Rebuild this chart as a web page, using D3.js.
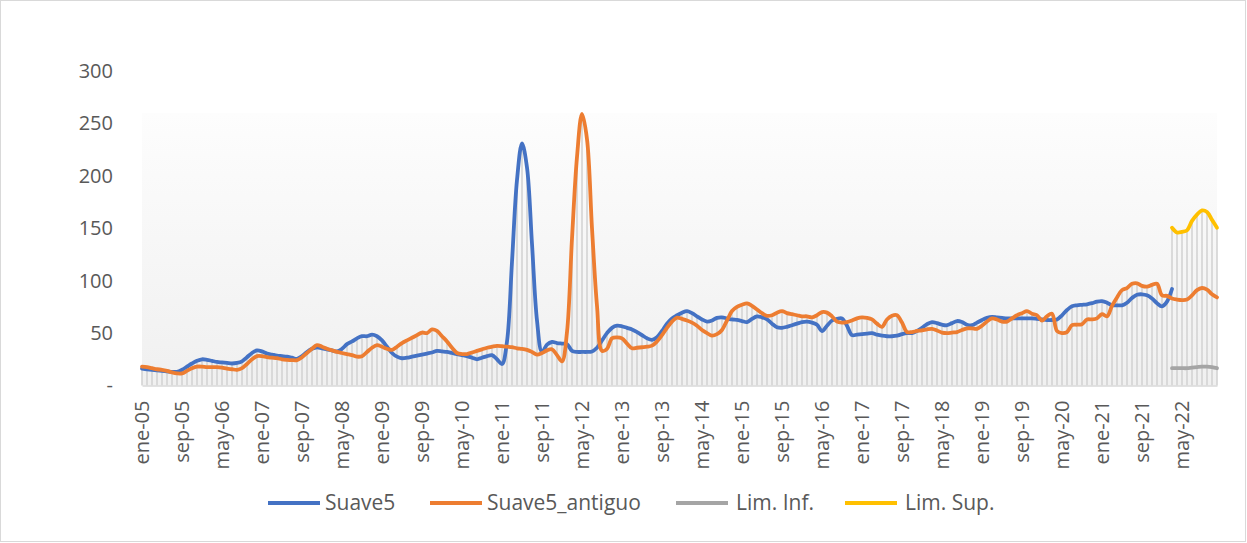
<!DOCTYPE html>
<html><head><meta charset="utf-8">
<script src="https://cdn.jsdelivr.net/npm/d3@7"></script>
<style>
html,body{margin:0;padding:0;background:#fff;}
svg{display:block;}
text{font-family:"Open Sans",sans-serif;fill:#595959;}
</style></head>
<body>
<svg id="chart" width="1247" height="543"></svg>
<script>
const monthNames = ["ene","feb","mar","abr","may","jun","jul","ago","sep","oct","nov","dic"];
const years = [2005,2006,2007,2008,2009,2010,2011,2012,2013,2014,2015,2016,2017,2018,2019,2020,2021,2022];
const categories = [];
years.forEach(y => monthNames.forEach(m => categories.push(m + "-" + String(y).slice(2))));

const tickLabels = ["ene-05","sep-05","may-06","ene-07","sep-07","may-08","ene-09","sep-09","may-10",
 "ene-11","sep-11","may-12","ene-13","sep-13","may-14","ene-15","sep-15","may-16","ene-17","sep-17",
 "may-18","ene-19","sep-19","may-20","ene-21","sep-21","may-22"];
const yTicks = [0,50,100,150,200,250,300];

const suave5 = [
16,15.5,15,14.5,14,13.5,13,13,15,18,21,23.5,25,24.5,23.5,22.5,22,21.5,21,21.5,
23,27,31,33.5,32.5,30.5,29.5,28.5,28,27.5,26.5,25.5,28,32,35,36.5,35.5,34.5,33.5,32.5,
35,39.5,42,45,47,47,48.5,47,43,37,31,27.5,26,26.5,27.5,28.5,29.5,30.5,31.5,33,
32.5,32,31,30,29,28,26.5,25,26.5,28,29,25,20.5,42,118,196,231,208,135,62,
32,39,41.5,40.5,40,39.5,33,32,32,32,32.5,36,43,50,55,57,56.5,55,53.5,51,
48,45,43.5,46,52,59,64,67,69.5,71,69,66,63,61,62,64.5,65,64,63,62.5,
61.5,60.5,63.5,66,65,63,59,55.5,55,56,57.5,59,60.5,61,60,58,52,57,62,63.5,
64,57,48,48.5,49,49.5,50,48.5,47.5,47,47,47.5,49,50,50,52,55,58.5,60.5,59.5,
58,57.5,59.5,61.5,60.5,58,57.5,60,62.5,64.5,65.5,65,64.5,64,64,64,64,64,64,63.5,
63,62.5,62.5,63,67,72,75.5,76.5,77,77.5,78.5,80,80.5,79,76.5,76.5,76.5,79,83.5,86.5,
87,86,83,78.5,75.5,80,92
];
const suave5Antiguo = [
18,17.5,16.5,15.5,15,14,12.5,11.5,11.5,14,16.5,18,18,17.5,17.5,17.5,17,16,15.5,15,
16.5,20.5,25,28,28,27,26.5,26,25,24.5,24.2,24.2,27,31,35,38.5,37,35,33.5,32,
31,30,29,27.5,28,32,36,38.5,37,35,34,37,40.5,43,45.5,48,50.5,50,53.5,52,
47,42,36,31,30,30,31.5,33,34.5,36,37,37.8,37.5,37,36.5,35.5,35,34,32,29.5,
31,33.5,34.5,29,23,51,140,218,259,235,150,76,33,35,45,46,45,40,35.5,36,
36.5,37,38,42,48,55,61,64.8,63.5,62,60,57,53,50,47.5,49,53,62,71,75,
77,78.4,76,72.5,69,66.5,67,69.5,71,69,68,67,66,66,65,67,70,69.5,66,61,
60,60.5,62,64,65,64.5,63,59,56,63,66.5,67,60,51,51,52,52.5,53.5,54,52.5,
50.5,50,50.5,51,53,54.5,54.5,54,57,61,64,63,61,61,64,67,69,71,68.5,67,
62,66,68.5,52,50,51,57.5,58,58.5,63,63,64,68,66,76,84,91,93,97,97.5,
95,94.3,96,97,86,85.5,83,82,81.5,82,86,91,93,91.5,87,84
];
const limStart = 206;
const limInf = [16.5,16.5,16.5,16.5,17,17.5,18,18,17.5,16.5];
const limSup = [150.5,146,146.5,148,157,163,167,165.5,158,150.5];

const seriesList = [
  {name:"Suave5", color:"#4472C4", values:suave5, start:0},
  {name:"Suave5_antiguo", color:"#ED7D31", values:suave5Antiguo, start:0},
  {name:"Lim. Inf.", color:"#A5A5A5", values:limInf, start:limStart},
  {name:"Lim. Sup.", color:"#FFC000", values:limSup, start:limStart}
];

const svg = d3.select("#chart");
svg.append("rect").attr("x",0.5).attr("y",0.5).attr("width",1245).attr("height",541)
  .attr("fill","#fff").attr("stroke","#d9d9d9");

const x = d3.scalePoint().domain(categories).range([142,1217]);
const y = d3.scaleLinear().domain([0,300]).range([385.5,71]);

const defs = svg.append("defs");
const grad = defs.append("linearGradient").attr("id","bg").attr("x1",0).attr("y1",0).attr("x2",0).attr("y2",1);
grad.append("stop").attr("offset","0%").attr("stop-color","#fdfdfd");
grad.append("stop").attr("offset","100%").attr("stop-color","#f0f0f0");
svg.append("rect").attr("x",142).attr("y",113).attr("width",1075).attr("height",385.5-113)
  .attr("fill","url(#bg)");

// drop lines
const maxAt = categories.map((c,i) => {
  let m = null;
  seriesList.forEach(s => {
    const k = i - s.start;
    if (k >= 0 && k < s.values.length) m = m === null ? s.values[k] : Math.max(m, s.values[k]);
  });
  return m;
});
svg.append("g").selectAll("line").data(categories.filter((c,i)=>maxAt[i]!==null)).join("line")
  .attr("x1",d=>x(d)).attr("x2",d=>x(d))
  .attr("y1",y(0)).attr("y2",d=>y(maxAt[categories.indexOf(d)]))
  .attr("stroke","#d4d4d4").attr("stroke-width",1.6);

// x axis
const xAxis = svg.append("g").attr("transform",`translate(0,${y(0)})`)
  .call(d3.axisBottom(x).tickValues(tickLabels).tickSize(0).tickPadding(0));
xAxis.select(".domain").attr("stroke","#d9d9d9").attr("stroke-width",1.5);
xAxis.selectAll("text").attr("font-size",20).attr("fill","#595959")
  .attr("transform","rotate(-90)").attr("text-anchor","end")
  .attr("x",-15).attr("y",0).attr("dy","0.32em");

// y axis
const yAxis = svg.append("g").attr("transform","translate(113,0)")
  .call(d3.axisLeft(y).tickValues(yTicks).tickSize(0).tickPadding(0)
    .tickFormat(d => d === 0 ? "-" : d3.format("d")(d)));
yAxis.select(".domain").remove();
yAxis.selectAll("text").attr("font-size",20).attr("fill","#595959").attr("text-anchor","end");

// lines
const line = d3.line().x(d=>x(d.c)).y(d=>y(d.v)).curve(d3.curveCatmullRom.alpha(0.5));
seriesList.forEach(s => {
  const pts = s.values.map((v,k)=>({c:categories[s.start+k], v}));
  svg.append("path").datum(pts).attr("d",line).attr("fill","none")
    .attr("stroke",s.color).attr("stroke-width",3.8)
    .attr("stroke-linejoin","round").attr("stroke-linecap","round");
});

// legend
const legendItems = [
  {x:268, tx:325},{x:430, tx:487},{x:676, tx:736},{x:845, tx:905}
];
seriesList.forEach((s,i) => {
  const g = svg.append("g");
  g.append("line").attr("x1",legendItems[i].x).attr("x2",legendItems[i].x+52)
    .attr("y1",503).attr("y2",503).attr("stroke",s.color).attr("stroke-width",4);
  g.append("text").attr("x",legendItems[i].tx).attr("y",503).attr("dy","0.35em")
    .attr("font-size",21).text(s.name);
});
</script>
</body></html>
